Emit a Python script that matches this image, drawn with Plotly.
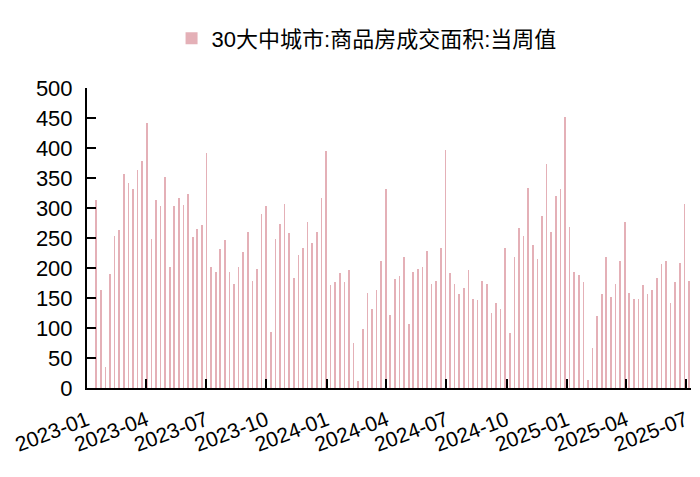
import pandas as pd
import plotly.graph_objs as go

### Weekly data: 30 large/medium cities, commodity housing transaction area (weekly)
week_start = "2023-01-15"
series_name = "30大中城市:商品房成交面积:当周值"

values = [
    313, 164, 35, 190, 253, 264, 357, 342, 331, 364,
    379, 442, 249, 313, 304, 352, 201, 303, 317, 305,
    324, 252, 265, 271, 392, 202, 194, 231, 247, 193,
    174, 202, 227, 260, 178, 199, 290, 304, 94, 248,
    274, 306, 259, 184, 222, 233, 277, 241, 260, 316,
    395, 172, 176, 192, 177, 197, 75, 11, 99, 159,
    131, 164, 212, 332, 122, 181, 186, 218, 106, 194,
    198, 202, 228, 174, 179, 233, 396, 192, 173, 156,
    167, 196, 149, 146, 178, 174, 125, 141, 131, 233,
    91, 218, 266, 253, 333, 239, 215, 286, 373, 260,
    320, 332, 451, 268, 193, 188, 177, 14, 66, 120,
    156, 218, 151, 173, 212, 277, 159, 149, 149, 172,
    157, 163, 184, 207, 212, 142, 177, 209, 306, 178,
]

dates = pd.date_range(week_start, periods=len(values), freq="7D")

tick_vals = pd.date_range("2023-01-01", "2025-07-01", freq="QS")
tick_text = [d.strftime("%Y-%m") for d in tick_vals]
y_ticks = list(range(0, 501, 50))

fig = go.Figure(go.Bar(
    x=dates,
    y=values,
    name=series_name,
    width=1.0 * 24 * 3600 * 1000,
    marker=dict(color="#e4b0b7", line=dict(width=0)),
    showlegend=True,
))

# page body adds an 8px offset, so margins are shifted left/up by 8
fig.update_layout(
    width=700,
    height=477,
    margin=dict(l=79, r=17, t=80, b=97, autoexpand=False),
    paper_bgcolor="white",
    plot_bgcolor="white",
    font=dict(family="Liberation Sans, Arial, Noto Sans CJK SC", color="black"),
    bargap=0,
    legend=dict(
        orientation="h",
        x=0.14, xanchor="left",
        y=1.235, yanchor="top",
        font=dict(size=22, family="Liberation Sans, Noto Sans CJK SC"),
    ),
    xaxis=dict(
        type="date",
        range=["2023-01-01", "2025-07-09"],
        tickvals=tick_vals,
        ticktext=tick_text,
        tickangle=-21,
        ticklabeloverflow="allow",
        ticklabelstandoff=10,
        automargin=False,
        ticks="inside",
        ticklen=9,
        tickwidth=2,
        tickcolor="black",
        showline=True,
        linecolor="black",
        linewidth=2,
        showgrid=False,
        zeroline=False,
        tickfont=dict(size=21),
    ),
    yaxis=dict(
        range=[0, 500],
        tickvals=y_ticks,
        automargin=False,
        ticks="inside",
        ticklen=9,
        tickwidth=2,
        tickcolor="black",
        showline=True,
        linecolor="black",
        linewidth=2,
        showgrid=False,
        zeroline=False,
        tickfont=dict(size=22),
        ticklabelstandoff=8,
    ),
)

fig.write_html("out.html")
